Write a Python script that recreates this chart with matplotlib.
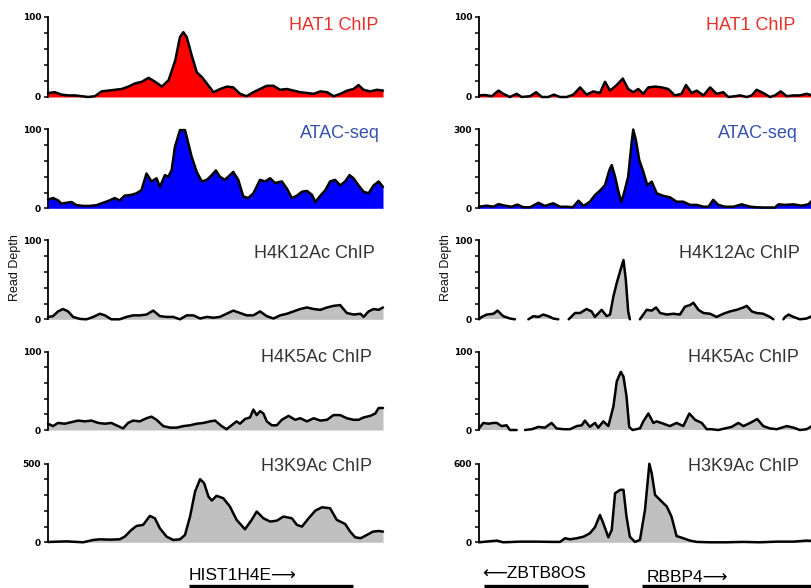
import numpy as np
import matplotlib
matplotlib.use("Agg")
import matplotlib.pyplot as plt

nan = np.nan

# ---------------- data (x = position in % of the genomic window) ----------------
# Left locus (HIST1H4E)
l_hat1_x = [0,2,4,6,8,10,12,14,16,18,20,22,24,26,28,30,32,34,36,38,39.4,40.4,41.4,42.9,44.4,45.9,47.4,
            49.4,51.4,53.4,55.3,57.3,59.3,61.3,63.3,65.3,67.3,69.3,71.3,73.3,75.3,77.3,79.3,81.3,83.3,85.3,87.3,89.3,
            91.2,92.7,94.2,96.2,98.2,100]
l_hat1_y = [5,6,3,2,2,1,0,1,7,8,9,10,13,17,19,24,19,13,21,46,75,81,75,52,31,25,17,
            6,10,13,12,4,1,6,10,14,14,9,10,8,6,5,4,7,6,1,4,8,
            10,15,9,7,9,8]

l_atac_x = [0,1.5,3.0,4.0,5.5,7.0,8.5,10.5,12.5,14.5,16.5,18.4,19.9,21.4,22.9,24.9,26.4,27.9,29.4,30.9,
            32.4,33.4,34.9,35.9,36.9,37.9,39.4,40.9,41.9,42.9,44.4,45.9,47.4,48.9,50.1,51.3,52.8,54.3,55.3,56.8,
            58.3,59.8,61.3,63.3,64.8,66.3,67.8,69.8,71.3,72.8,74.3,75.8,77.3,78.8,79.8,81.3,82.8,84.2,85.7,87.2,
            88.7,90.0,91.2,92.7,94.2,95.7,97.2,98.7,100]
l_atac_y = [11,13,10,6,7,8,4,3,3,4,7,10,13,10,16,17,19,23,44,34,
            38,27,42,40,48,78,99,99,82,65,46,34,36,42,48,40,36,42,46,36,
            15,13,19,36,34,38,32,34,25,13,16,21,22,17,8,16,23,34,36,29,
            34,42,38,29,21,19,29,34,27]

l_k12_x = [0,1.5,3,4.5,6,7.5,9.5,11.5,13.5,15.5,17,18.9,21.4,23.4,25.4,27.4,29.4,31.4,33.4,35.4,
           37.4,39.4,41.4,43.4,45.4,47.4,49.4,51.3,53.3,55.3,57.3,59.3,61.3,63.3,65.3,67.3,69.3,71.3,73.3,75.3,
           77.3,79.3,81.3,83.3,85.2,87.2,89.2,91.2,93.3,94.2,95.7,97.2,98.7,100]
l_k12_y = [3,4,10,13,10,3,0.5,0,3,7,5,0,0,3,5,5,6,11,4,3,
           3,0,5,5,1,3,2,3,7,11,8,5,5,10,4,1,5,7,10,13,
           15,13,12,15,17,18,8,6,7,3,10,13,12,15]

l_k5_x = [0,1.5,3,5,7,9,11,13,15,17,18.9,20.9,22.4,23.9,25.4,27.4,29.4,30.9,32.4,34.4,
          36.4,38.4,40.4,42.4,44.4,46.4,48.4,49.9,51.8,53.3,54.8,56.3,57.3,58.8,60.3,61.3,62.3,63.3,64.3,65.3,
          66.8,68.3,69.8,71.8,73.8,75.3,77.3,79.3,81.3,83.3,85.2,87.2,89.2,91.2,92.7,94.2,96.2,97.7,98.7,100]
l_k5_y = [8,5,9,8,10,12,11,12,9,8,9,5,2,9,12,11,15,17,13,5,
          3,3,5,6,8,9,11,12,5,1,6,11,8,14,16,26,19,24,21,11,
          6,6,13,18,13,15,11,15,12,13,19,19,15,13,13,16,18,21,28,28]

l_k9_x = [0,5.5,10.5,13.5,15.5,18.4,21.4,22.9,24.9,26.4,28.4,30.4,31.9,33.4,35.4,37.4,39.4,40.9,42.4,43.9,
          45.4,46.6,47.9,48.9,50.3,52.3,54.3,56.3,58.8,60.8,62.3,64.3,66.3,68.3,70.3,72.8,74.3,75.8,77.8,79.8,
          81.8,84.2,86.2,88.7,90.2,91.7,93.3,95.2,97.0,98.7,100]
l_k9_y = [2,6,0,15,19,17,19,36,79,104,111,168,153,89,36,15,19,47,164,323,
          402,377,291,266,296,281,228,143,83,143,196,153,132,138,164,153,111,100,153,202,
          223,217,143,117,68,32,26,47,68,72,68]

# Right locus (ZBTB8OS / RBBP4)
r_hat1_x = [0,1.8,3.8,5.8,7.2,9.2,11.2,12.7,15.2,17.0,18.7,20.6,22.3,24.1,26.1,28.1,30.1,32.0,34.0,36.0,
            37.5,39.0,41.0,42.8,44.4,45.9,47.4,48.9,50.4,52.4,54.4,56.3,58.3,60.3,61.6,63.3,64.8,66.8,68.8,70.7,
            72.7,74.2,76.2,77.7,79.7,81.2,82.6,84.6,86.6,88.1,89.8,91.6,93.6,95.5,97.5,99.1,100]
r_hat1_y = [2,2.5,1,8,4,0,4,0,1,6,0,0,3,0,0,3,12,3,7,5,
            19,8,15,23,10,6,10,4,12,13,12,10,2,4,15,5,8,2,12,4,
            6,0,1,2,0,2,9,5,0,2,7,1,2,2,4,2,2]

r_atac_x = [0,2.3,4.3,5.8,7.7,9.7,11.4,13.2,15.2,17.7,19.6,22.1,24.1,26.1,27.9,29.6,31.1,33.0,34.5,36.0,
            37.5,38.8,39.5,40.5,41.5,42.3,43.0,44.4,45.4,45.9,46.7,47.7,48.9,50.1,51.4,52.9,54.9,56.8,58.8,60.8,
            62.8,64.8,66.8,68.3,69.7,71.2,73.2,75.7,78.2,80.7,82.6,84.6,86.6,88.1,89.1,91.1,93.6,96.0,98.0,99.1,100]
r_atac_y = [6,10,6,16,10,6,14,4,4,21,9,19,6,6,4,29,9,25,50,67,
            88,145,164,120,63,25,50,120,246,299,259,183,139,88,101,57,47,42,25,25,
            13,13,6,6,32,13,6,6,15,6,4,3,3,3,15,13,15,10,15,29,32]

r_k12_x = [0,0.8,2.3,4.3,5.5,7.2,9.2,10.7,12.7,14.7,16.2,17.7,19.1,20.6,22.1,23.6,25.3,26.7,28.6,30.1,
           32.0,33.5,34.5,36.5,38.0,39.0,40.0,41.0,42.0,43.0,43.7,44.4,44.9,46.4,47.9,48.4,49.9,51.4,52.7,53.9,
           55.9,57.8,59.8,61.3,62.8,63.8,65.3,66.8,68.8,70.7,72.7,74.7,76.7,78.7,79.7,81.2,82.6,84.6,86.6,87.6,
           89.0,90.6,91.1,92.1,93.6,95.5,97.5,99.1,100]
r_k12_y = [0,3,6,7,11,4,1,0,nan,0,4,3,6,4,1,0,nan,0,8,8,
           13,10,3,12,4,6,29,46,61,75,50,10,0,nan,0,3,12,11,15,8,
           6,7,6,16,18,21,12,8,7,3,7,10,12,15,17,10,8,7,3,0,
           nan,0,3,6,3,0,1,4,4]

r_k5_x = [0,1.3,2.8,4.3,5.3,6.7,8.2,9.2,11.2,12.4,13.7,15.7,17.7,19.6,21.6,23.1,25.1,27.1,29.1,30.6,
          31.5,33.0,34.5,35.5,37.0,38.5,40.0,41.0,42.2,43.0,43.9,44.7,45.7,47.9,48.9,50.4,51.9,52.9,54.9,56.8,
          58.8,60.8,62.6,64.3,66.3,67.8,69.2,71.2,73.2,75.2,77.2,78.7,80.7,82.8,84.6,86.6,88.6,90.1,91.6,93.6,
          95.5,97.5,99.1,100]
r_k5_y = [2,9,8,9,9,5,6,0,0,nan,0,1,4,3,9,2,1,1,5,6,
          12,4,9,3,11,5,30,62,74,68,43,4,0,2,11,21,9,11,8,5,
          9,5,21,13,9,1,1,0,2,4,9,5,9,14,5,2,1,3,5,3,
          0,1,5,5]

r_k9_x = [0,5.3,7.2,12.2,17.2,22.1,24.1,25.6,27.1,29.1,31.1,33.0,34.5,36.0,37.0,38.5,39.5,40.5,42.0,43.0,
          43.9,44.9,46.4,47.9,49.4,50.7,51.4,52.4,54.4,55.9,57.3,58.8,60.8,62.8,64.8,68.8,73.7,78.7,83.6,88.6,
          93.6,97.5,100]
r_k9_y = [0,13,0,5,5,3,3,31,23,31,43,69,115,209,145,38,94,375,401,401,
          196,43,3,18,247,600,528,362,311,273,196,48,31,13,3,0,0,3,0,5,
          5,13,10]

track_names = ["HAT1 ChIP", "ATAC-seq", "H4K12Ac ChIP", "H4K5Ac ChIP", "H3K9Ac ChIP"]
left_ymax = [100, 100, 100, 100, 500]
right_ymax = [100, 300, 100, 100, 600]

left_genes = ["HIST1H4E\u27f6"]
left_gene_start = [42.0]
left_gene_end = [91.0]
right_genes = ["\u27f5ZBTB8OS", "RBBP4\u27f6"]
right_gene_start = [1.5, 48.5]
right_gene_end = [32.4, 102.0]

# ---------------- styling ----------------
fills = ["#ff0000", "#0000ff", "#c0c0c0", "#c0c0c0", "#c0c0c0"]
label_colors = ["#e8302a", "#3550b0", "#333333", "#333333", "#333333"]
W, H = 812, 588
fig = plt.figure(figsize=(W / 100, H / 100), dpi=100)

zero_px = [97, 208.3, 319.3, 430, 542.3]
height_px = [80, 79, 79, 78.5, 78.5]
label_y = [0.90, 0.953, 0.83, 0.92, 0.965]
left_label_x = [0.985, 0.991, 0.976, 0.967, 0.967]
right_label_x = [0.943, 0.949, 0.955, 0.952, 0.952]

left_data = [(l_hat1_x, l_hat1_y), (l_atac_x, l_atac_y), (l_k12_x, l_k12_y), (l_k5_x, l_k5_y), (l_k9_x, l_k9_y)]
right_data = [(r_hat1_x, r_hat1_y), (r_atac_x, r_atac_y), (r_k12_x, r_k12_y), (r_k5_x, r_k5_y), (r_k9_x, r_k9_y)]

cols = [(48, 335, left_data, left_ymax, left_label_x), (479, 336, right_data, right_ymax, right_label_x)]

for x0, wpx, data, ymaxs, lab_x in cols:
    for i in range(5):
        ax = fig.add_axes([x0 / W, 1 - zero_px[i] / H, wpx / W, height_px[i] / H])
        x = np.array(data[i][0], dtype=float)
        y = np.array(data[i][1], dtype=float)
        ax.fill_between(x, 0, y, where=~np.isnan(y), color=fills[i], lw=0, interpolate=False)
        ax.plot(x, y, color="black", lw=1.8, solid_joinstyle="round", solid_capstyle="round", clip_on=False)
        ax.set_xlim(0, 100)
        ax.set_ylim(0, ymaxs[i])
        for s in ["top", "right", "bottom"]:
            ax.spines[s].set_visible(False)
        ax.spines["left"].set_linewidth(1.3)
        ticks = np.linspace(0, ymaxs[i], 6)
        ax.set_yticks(ticks)
        ax.set_yticklabels(["0", "", "", "", "", str(ymaxs[i])])
        ax.tick_params(axis="y", length=3, width=1.1, pad=2, labelsize=6.5)
        for t in ax.get_yticklabels():
            t.set_fontweight("bold")
        ax.set_xticks([])
        ax.text(lab_x[i], label_y[i], track_names[i], transform=ax.transAxes, ha="right", va="center",
                fontsize=13, color=label_colors[i], family=["Liberation Sans", "DejaVu Sans"])

# Read Depth labels
for xp in [15, 446]:
    fig.text(xp / W, 1 - 268 / H, "Read Depth", rotation=90, ha="center", va="center", fontsize=9,
             family=["Liberation Sans", "DejaVu Sans"], color="#111111")

# Gene annotation tracks
def gene_axes(x0, wpx):
    gax = fig.add_axes([x0 / W, 0, wpx / W, 30 / H])
    gax.set_xlim(0, 100)
    gax.set_ylim(0, 30)
    gax.axis("off")
    return gax

gl = gene_axes(48, 335)
for name, s, e in zip(left_genes, left_gene_start, left_gene_end):
    gl.hlines(2, s, e, color="black", lw=2.4, clip_on=False)
    gl.text(s, 7.5, name, ha="left", va="baseline", fontsize=12.5,
            family=["Liberation Sans", "DejaVu Sans"], color="black")

gr = gene_axes(479, 336)
text_y = [10, 6]
for j, (name, s, e) in enumerate(zip(right_genes, right_gene_start, right_gene_end)):
    gr.hlines(2, s, e, color="black", lw=2.4, clip_on=False)
    gr.text(s - 0.6 if j == 0 else s + 1.5, text_y[j], name, ha="left", va="baseline", fontsize=12.5,
            family=["Liberation Sans", "DejaVu Sans"], color="black")

fig.savefig("out.png", dpi=100)
